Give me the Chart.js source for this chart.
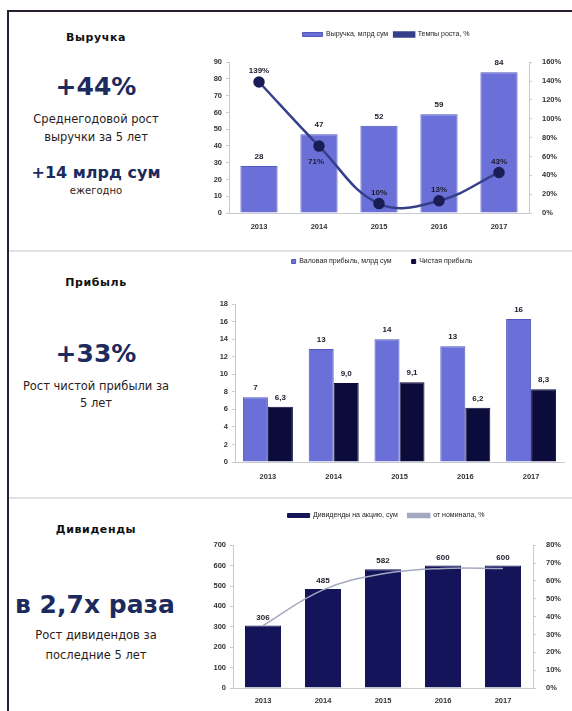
<!DOCTYPE html>
<html>
<head>
<meta charset="utf-8">
<script src="https://cdn.jsdelivr.net/npm/chart.js@4.4.1/dist/chart.umd.min.js"></script>
<style>
  html,body{margin:0;padding:0;background:#fff;}
  body{width:572px;height:711px;position:relative;overflow:hidden;font-family:"DejaVu Sans",sans-serif;}
  .frameTop{position:absolute;left:7px;top:10px;width:565px;height:2px;background:#2a2032;}
  .frameLeft{position:absolute;left:7px;top:10px;width:2px;height:701px;background:#2a2032;}
  .sep{position:absolute;left:9px;width:563px;height:2px;background:#e2e2e6;}
  .t{position:absolute;width:192px;left:0;text-align:center;color:#2a1c1c;}
  .title{font-weight:bold;font-size:11px;letter-spacing:0.6px;color:#111;}
  .big{font-weight:bold;font-size:25px;color:#1d2a5e;}
  .mid{font-weight:bold;font-size:16px;color:#1d2a5e;}
  .small{font-size:11.5px;}
  canvas{position:absolute;}
</style>
</head>
<body>
<div class="frameTop"></div>
<div class="frameLeft"></div>
<div class="sep" style="top:250px"></div>
<div class="sep" style="top:497px"></div>

<div class="t title" style="top:31px">Выручка</div>
<div class="t big" style="top:72px">+44%</div>
<div class="t small" style="top:112px">Среднегодовой рост</div>
<div class="t small" style="top:130px">выручки за 5 лет</div>
<div class="t mid" style="top:163px">+14 млрд сум</div>
<div class="t small" style="top:185px;font-size:10px">ежегодно</div>

<div class="t title" style="top:276px">Прибыль</div>
<div class="t big" style="top:339px">+33%</div>
<div class="t small" style="top:379px">Рост чистой прибыли за</div>
<div class="t small" style="top:396px">5 лет</div>

<div class="t title" style="top:523px">Дивиденды</div>
<div class="t big" style="top:590px;left:0;width:190px;">в 2,7х раза</div>
<div class="t small" style="top:628px">Рост дивидендов за</div>
<div class="t small" style="top:648px">последние 5 лет</div>

<canvas id="c1" width="372" height="218" style="left:200px;top:25px"></canvas>
<canvas id="c2" width="372" height="252" style="left:200px;top:238px"></canvas>
<canvas id="c3" width="372" height="209" style="left:200px;top:502px"></canvas>

<script>
// ---------- DATA ----------
const years = ['2013','2014','2015','2016','2017'];

const revenue = [28, 47, 52, 59, 84];          // Выручка, млрд сум
const revenueGrowth = [139, 71, 10, 13, 43];   // Темпы роста, %

const grossProfit = [7.4, 12.9, 14.0, 13.2, 16.3]; // Валовая прибыль, млрд сум
const netProfit = [6.3, 9.0, 9.1, 6.2, 8.3];       // Чистая прибыль

const dividends = [306, 485, 582, 600, 600];   // Дивиденды на акцию, сум
const dividendPct = [35, 55, 64, 67, 67];      // от номинала, %

// ---------- helpers ----------
const FONT = '"Liberation Sans", Arial, sans-serif';
Chart.defaults.font.family = FONT;
Chart.defaults.color = '#333';

const labelPlugin = {
  id: 'valueLabels',
  afterDatasetsDraw(chart) {
    const ctx = chart.ctx;
    chart.data.datasets.forEach((ds, i) => {
      if (!ds.valueLabel) return;
      const meta = chart.getDatasetMeta(i);
      ctx.save();
      ctx.font = 'bold 8px ' + FONT;
      ctx.fillStyle = '#1e1a2a';
      ctx.textAlign = 'center';
      meta.data.forEach((el, j) => {
        const v = ds.data[j];
        const txt = ds.valueLabel(v);
        const below = ds.labelBelow && ds.labelBelow[j];
        const off = ds.labelOffset || 5;
        if (below) {
          ctx.textBaseline = 'top';
          ctx.fillText(txt, el.x - 3, el.y + off + 5);
        } else {
          ctx.textBaseline = 'bottom';
          ctx.fillText(txt, el.x, el.y - off);
        }
      });
      ctx.restore();
    });
  }
};

function yFit(w){ return function(scale){ scale.width = w; }; }
function xFit(h){ return function(scale){ scale.height = h; }; }
function spacer(h){ return {display: true, text: '', font: {size: 1}, padding: {top: 0, bottom: h}}; }

const tickFont = {size: 7.5, weight: 'bold', family: FONT};
const legendFont = {size: 7, family: FONT};
const axisBorder = {color: '#c9c9d2', width: 1};
const axisGrid = {drawOnChartArea: false, drawTicks: true, tickLength: 3, color: '#c9c9d2'};

// ---------- Chart 1: Выручка ----------
new Chart(document.getElementById('c1'), {
  data: {
    labels: years,
    datasets: [
      {
        type: 'line',
        label: 'Темпы роста, %',
        data: revenueGrowth,
        yAxisID: 'y2',
        borderColor: '#35408a',
        backgroundColor: '#35408a',
        pointBackgroundColor: '#1a1d55',
        pointBorderColor: '#1a1d55',
        pointRadius: 4.5,
        borderWidth: 2.5,
        tension: 0.4,
        clip: false,
        order: 0,
        valueLabel: v => v + '%',
        labelBelow: [false, true, false, false, false],
        labelOffset: 7
      },
      {
        type: 'bar',
        label: 'Выручка, млрд сум',
        data: revenue,
        yAxisID: 'y',
        backgroundColor: '#6b70d8',
        borderColor: '#5257bb',
        borderWidth: 1,
        barPercentage: 0.62,
        categoryPercentage: 1.0,
        order: 1,
        valueLabel: v => String(v),
        labelOffset: 5
      }
    ]
  },
  options: {
    responsive: false,
    animation: false,
    plugins: {
      legend: {
        position: 'top',
        weight: 3000,
        reverse: true,
        labels: {boxWidth: 20, boxHeight: 4, font: legendFont, color: '#222', padding: 6}
      },
      title: spacer(13),
      tooltip: {enabled: false}
    },
    scales: {
      x: {
        grid: {display: false},
        border: axisBorder,
        ticks: {font: tickFont, color: '#333', padding: 1},
        afterFit: xFit(30)
      },
      y: {
        position: 'left',
        min: 0, max: 90,
        ticks: {stepSize: 10, font: tickFont, color: '#333', padding: 4},
        grid: axisGrid,
        border: axisBorder,
        afterFit: yFit(29)
      },
      y2: {
        position: 'right',
        min: 0, max: 160,
        ticks: {stepSize: 20, font: tickFont, color: '#333', padding: 10, callback: v => v + '%'},
        grid: axisGrid,
        border: axisBorder,
        afterFit: yFit(43)
      }
    }
  },
  plugins: [labelPlugin]
});

// ---------- Chart 2: Прибыль ----------
new Chart(document.getElementById('c2'), {
  type: 'bar',
  data: {
    labels: years,
    datasets: [
      {
        label: 'Валовая прибыль, млрд сум',
        data: grossProfit,
        backgroundColor: '#6b70d8',
        borderColor: '#5257bb',
        borderWidth: 1,
        barPercentage: 1.0,
        categoryPercentage: 0.76,
        valueLabel: v => String(Math.round(v)),
        labelOffset: 5
      },
      {
        label: 'Чистая прибыль',
        data: netProfit,
        backgroundColor: '#0c0c3c',
        borderColor: '#0c0c3c',
        borderWidth: 1,
        barPercentage: 1.0,
        categoryPercentage: 0.76,
        valueLabel: v => v.toFixed(1).replace('.', ','),
        labelOffset: 5
      }
    ]
  },
  options: {
    responsive: false,
    animation: false,
    layout: {padding: {right: 8}},
    plugins: {
      legend: {
        position: 'top',
        weight: 3000,
        labels: {usePointStyle: true, pointStyle: 'rect', boxWidth: 4, boxHeight: 4, font: legendFont, color: '#222', padding: 20}
      },
      title: spacer(28),
      tooltip: {enabled: false}
    },
    scales: {
      x: {
        grid: {display: false},
        border: axisBorder,
        ticks: {font: tickFont, color: '#333', padding: 2},
        afterFit: xFit(28)
      },
      y: {
        min: 0, max: 18,
        ticks: {stepSize: 2, font: tickFont, color: '#333', padding: 4},
        grid: axisGrid,
        border: axisBorder,
        afterFit: yFit(35)
      }
    }
  },
  plugins: [labelPlugin]
});

// ---------- Chart 3: Дивиденды ----------
new Chart(document.getElementById('c3'), {
  data: {
    labels: years,
    datasets: [
      {
        type: 'bar',
        label: 'Дивиденды на акцию, сум',
        data: dividends,
        yAxisID: 'y',
        backgroundColor: '#14145a',
        borderColor: '#14145a',
        borderWidth: 1,
        barPercentage: 0.6,
        categoryPercentage: 1.0,
        order: 1,
        valueLabel: v => String(v),
        labelOffset: 4
      },
      {
        type: 'line',
        label: 'от номинала, %',
        data: dividendPct,
        yAxisID: 'y2',
        borderColor: '#a4a8c0',
        backgroundColor: '#a4a8c0',
        borderWidth: 1.5,
        pointRadius: 0,
        tension: 0.4,
        order: 0
      }
    ]
  },
  options: {
    responsive: false,
    animation: false,
    plugins: {
      legend: {
        position: 'top',
        weight: 3000,
        reverse: true,
        labels: {boxWidth: 22, boxHeight: 4, font: legendFont, color: '#222', padding: 10}
      },
      title: spacer(15),
      tooltip: {enabled: false}
    },
    scales: {
      x: {
        grid: {display: false},
        border: axisBorder,
        ticks: {font: tickFont, color: '#333', padding: 0},
        afterFit: xFit(23)
      },
      y: {
        position: 'left',
        min: 0, max: 700,
        ticks: {stepSize: 100, font: tickFont, color: '#333', padding: 4},
        grid: axisGrid,
        border: axisBorder,
        afterFit: yFit(33)
      },
      y2: {
        position: 'right',
        min: 0, max: 80,
        ticks: {stepSize: 10, font: tickFont, color: '#333', padding: 10, callback: v => v + '%'},
        grid: axisGrid,
        border: axisBorder,
        afterFit: yFit(39)
      }
    }
  },
  plugins: [labelPlugin]
});
</script>
</body>
</html>
